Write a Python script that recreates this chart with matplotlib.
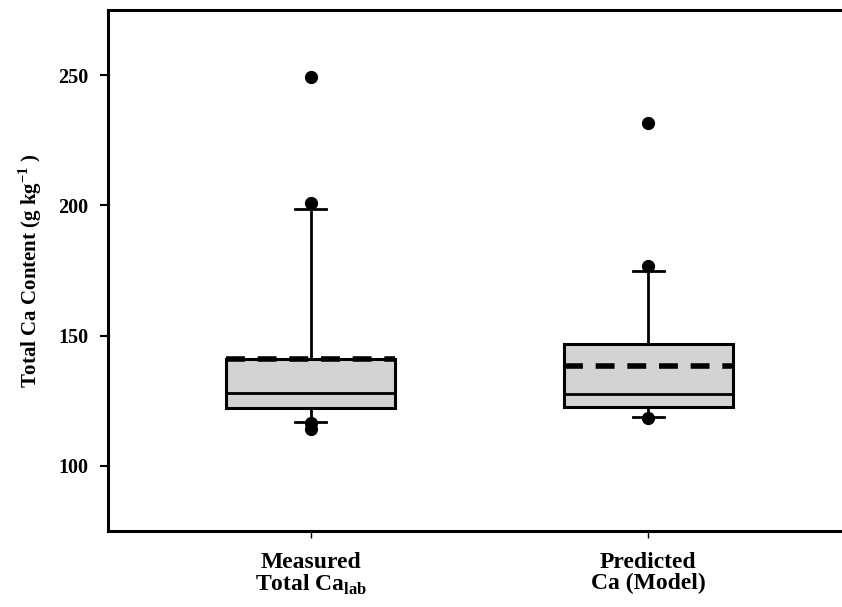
"""
box plot: measured vs predicted total Ca content
"""

import matplotlib

matplotlib.use("Agg")
import matplotlib.pyplot as plt

# %%
# data (g kg-1)
groups = ["Measured\nTotal Ca$_{\\mathregular{lab}}$", "Predicted\nCa (Model)"]
q1 = [122.2, 122.5]
medians = [128.0, 127.5]
q3 = [141.0, 146.8]
means = [141.2, 138.5]
whisk_lo = [117.0, 118.9]
whisk_hi = [198.5, 174.8]
fliers = [[249.4, 201.0, 116.4, 114.2], [231.7, 176.7, 118.5]]

yticks = [100, 150, 200, 250]

# %%
plt.rcParams["font.family"] = ["Liberation Serif", "DejaVu Serif"]
plt.rcParams["font.weight"] = "bold"
plt.rcParams["mathtext.fontset"] = "custom"
plt.rcParams["mathtext.rm"] = "Liberation Serif:bold"
plt.rcParams["mathtext.bf"] = "Liberation Serif:bold"

stats = []
for i, lab in enumerate(groups):
    stats.append(
        {
            "label": lab,
            "q1": q1[i],
            "med": medians[i],
            "q3": q3[i],
            "mean": means[i],
            "whislo": whisk_lo[i],
            "whishi": whisk_hi[i],
            "fliers": fliers[i],
        }
    )

fig = plt.figure(figsize=(8.42, 6.07), dpi=100)
ax = fig.add_axes([108 / 842, 1 - 531 / 607, (851 - 108) / 842, 521 / 607])

ax.bxp(
    stats,
    positions=[1, 2],
    widths=0.5,
    patch_artist=True,
    showmeans=True,
    meanline=True,
    capwidths=0.09,
    boxprops=dict(facecolor="#d3d3d3", edgecolor="black", linewidth=2.2),
    medianprops=dict(color="black", linewidth=2),
    meanprops=dict(color="black", linewidth=4, linestyle=(0, (3.4, 2.3))),
    whiskerprops=dict(color="black", linewidth=2),
    capprops=dict(color="black", linewidth=2),
    flierprops=dict(
        marker="o", markerfacecolor="black", markeredgecolor="black", markersize=8.5
    ),
)

ax.set_xlim(0.4, 2.6)
ax.set_ylim(75, 275)
ax.set_yticks(yticks)
ax.set_ylabel("Total Ca Content (g kg$^{-1}$ )", fontsize=15, fontweight="bold", labelpad=10)

for s in ax.spines.values():
    s.set_linewidth(2.2)
ax.tick_params(axis="y", length=6, width=1.5, labelsize=14.5, pad=8)
ax.tick_params(axis="x", length=5, width=1, labelsize=17, pad=10)
for t in ax.get_xticklabels():
    t.set_fontweight("bold")
    t.set_linespacing(1.0)
for t in ax.get_yticklabels():
    t.set_fontweight("bold")

fig.savefig("out.png", dpi=100)
